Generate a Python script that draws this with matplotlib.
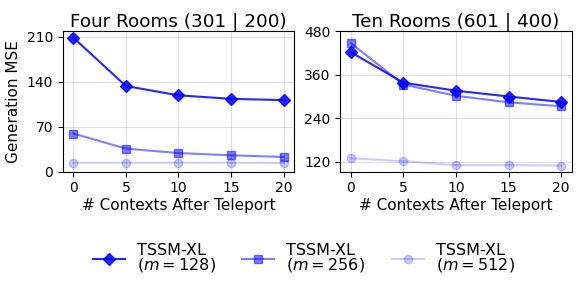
import numpy as np
import matplotlib
matplotlib.use("Agg")
import matplotlib.pyplot as plt

# data
contexts = [0, 5, 10, 15, 20]
series_labels = ["TSSM-XL\n($m=128$)", "TSSM-XL\n($m=256$)", "TSSM-XL\n($m=512$)"]

four_m128 = [209, 133.5, 119, 113.5, 111.5]
four_m256 = [59.5, 36, 29, 25.5, 23]
four_m512 = [14, 14, 14, 14, 13.5]

ten_m128 = [422, 338, 316, 300, 285]
ten_m256 = [447, 333, 302, 284, 273]
ten_m512 = [130, 122, 111, 111, 110]

titles = ["Four Rooms (301 | 200)", "Ten Rooms (601 | 400)"]
yticks = [[0, 70, 140, 210], [120, 240, 360, 480]]
ylims = [(0, 219), (93, 480)]

markers = ["D", "s", "o"]
alphas = [0.85, 0.5, 0.2]

fig, axes = plt.subplots(1, 2, figsize=(5.81, 2.91), dpi=100)
data = [[four_m128, four_m256, four_m512], [ten_m128, ten_m256, ten_m512]]

for ax, series, title, yt, yl in zip(axes, data, titles, yticks, ylims):
    for vals, mk, a, lab in zip(series, markers, alphas, series_labels):
        ax.plot(contexts, vals, color="blue", marker=mk, markersize=6,
                alpha=a, linewidth=1.5, label=lab)
    ax.set_title(title, fontsize=13.2, pad=3)
    ax.set_xticks(contexts)
    ax.set_yticks(yt)
    ax.set_ylim(*yl)
    ax.tick_params(labelsize=10)
    ax.grid(True, alpha=0.4)
    ax.set_xlabel("# Contexts After Teleport", fontsize=11, labelpad=2)

axes[0].set_ylabel("Generation MSE", fontsize=11)

handles, labels = axes[0].get_legend_handles_labels()
leg = fig.legend(handles, labels, loc="lower center", ncol=3, frameon=False,
                 fontsize=11.5, bbox_to_anchor=(0.523, 0.008), handlelength=2.0,
                 handletextpad=0.75, columnspacing=1.65)
for t in leg.get_texts():
    t.set_linespacing(0.9)

fig.subplots_adjust(left=0.108, right=0.984, top=0.893, bottom=0.41, wspace=0.2)
fig.savefig("out.png", dpi=100)
